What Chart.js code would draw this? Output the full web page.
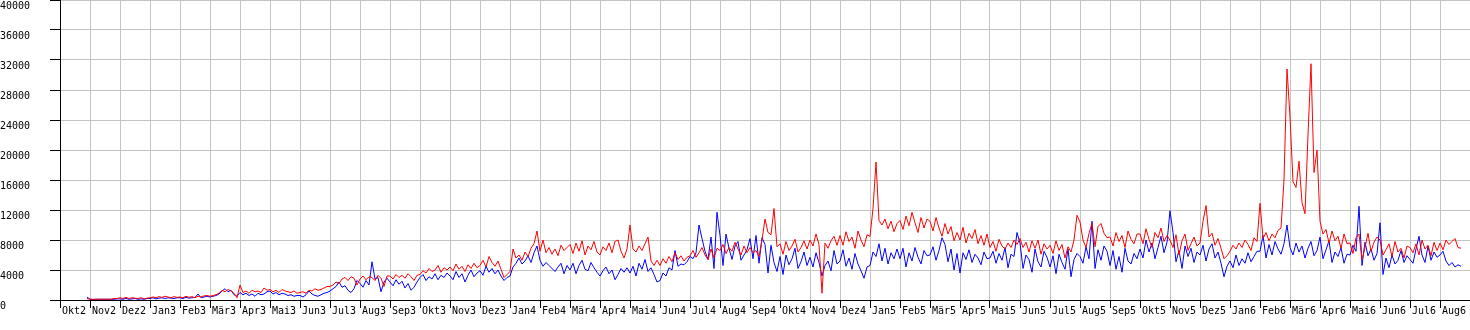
<!DOCTYPE html>
<html>
<head>
<meta charset="utf-8">
<script src="https://cdn.jsdelivr.net/npm/chart.js@4"></script>
<style>
  html, body { margin: 0; padding: 0; background: #fff; }
  canvas { display: block; }
</style>
</head>
<body>
<canvas id="myChart" width="1470" height="330"></canvas>
<script>
// month labels, one grid column (30 units) each
const months = [
    'Okt2', 'Nov2', 'Dez2', 'Jan3', 'Feb3', 'Mär3', 'Apr3', 'Mai3', 'Jun3', 'Jul3', 'Aug3', 'Sep3',
    'Okt3', 'Nov3', 'Dez3', 'Jan4', 'Feb4', 'Mär4', 'Apr4', 'Mai4', 'Jun4', 'Jul4', 'Aug4', 'Sep4',
    'Okt4', 'Nov4', 'Dez4', 'Jan5', 'Feb5', 'Mär5', 'Apr5', 'Mai5', 'Jun5', 'Jul5', 'Aug5', 'Sep5',
    'Okt5', 'Nov5', 'Dez5', 'Jan6', 'Feb6', 'Mär6', 'Apr6', 'Mai6', 'Jun6', 'Jul6', 'Aug6'
];

const yTicks = [0, 4000, 8000, 12000, 16000, 20000, 24000, 28000, 32000, 36000, 40000];

// 10 samples per month (every 3 days), values in thousands
const step = 3;

const red = [
    null, null, null, null, null, null, null, null, null, 0.2,
    0.1, 0.1, 0.1, 0.1, 0.1, 0.1, 0.1, 0.1, 0.2, 0.2,
    0.3, 0.2, 0.35, 0.2, 0.3, 0.25, 0.2, 0.3, 0.15, 0.25,
    0.3, 0.4, 0.3, 0.45, 0.35, 0.5, 0.4, 0.3, 0.45, 0.35,
    0.4, 0.3, 0.5, 0.35, 0.45, 0.3, 0.5, 0.4, 0.55, 0.6,
    0.5, 0.6, 0.7, 0.9, 1.3, 1.1, 1.4, 1.2, 0.9, 0.3,
    2.0, 1.0, 1.2, 0.9, 1.3, 1.1, 1.2, 1.0, 1.6, 1.3,
    1.4, 1.1, 1.3, 1.0, 1.4, 1.2, 1.1, 1.0, 1.2, 0.9,
    1.0, 1.1, 0.9, 1.3, 1.2, 1.5, 1.3, 1.4, 1.6, 1.8,
    1.8, 2.0, 2.4, 2.2, 2.8, 3.0, 2.6, 3.1, 2.9, 2.0,
    2.8, 3.2, 2.7, 3.1, 3.0, 2.6, 3.3, 2.9, 1.8, 3.2,
    3.2, 2.8, 3.4, 3.0, 3.3, 2.9, 3.5, 3.1, 2.6, 3.3,
    3.4, 3.9, 3.6, 4.2, 3.8, 4.0, 4.6, 3.7, 4.3, 4.0,
    4.4, 3.9, 4.8, 4.1, 4.5, 3.8, 4.7, 4.2, 4.9, 4.3,
    4.6, 5.3, 4.4, 5.8, 5.0, 4.5, 5.2, 4.1, 3.0, 3.4,
    3.8, 6.8, 5.6, 6.0, 5.3, 6.4, 5.8, 6.9, 7.5, 9.2,
    6.5, 8.0, 6.3, 7.0, 6.1, 6.8, 5.9, 7.3, 6.6, 7.0,
    7.4, 6.2, 7.6, 6.5, 7.9, 6.0, 7.2, 6.7, 7.8, 6.4,
    6.0, 7.1, 6.6, 7.6, 6.3, 7.8, 8.0, 6.5, 5.6, 6.8,
    10.0, 6.8, 6.4, 7.2, 6.6, 7.5, 8.4, 5.2, 4.6, 5.3,
    4.6, 5.5, 4.9, 5.8, 5.1, 6.3, 5.4, 5.9, 5.2, 5.7,
    5.9, 6.6, 5.7, 6.3, 7.0, 6.0, 5.4, 6.8, 5.6, 6.9,
    6.6, 7.4, 6.2, 7.0, 6.5, 7.7, 6.8, 6.0, 7.2, 6.3,
    7.0, 6.3, 6.6, 5.8, 8.0, 10.8, 9.0, 8.7, 12.2, 7.1,
    7.5, 6.1, 7.8, 6.6, 7.2, 8.1, 6.4, 7.0, 7.9, 6.8,
    8.0, 7.2, 8.8, 7.4, 0.9, 7.6, 6.9, 7.9, 8.5, 7.3,
    8.6, 7.3, 9.1, 7.8, 8.4, 6.9, 9.2, 8.0, 7.1, 8.7,
    8.5, 12.2, 18.4, 10.6, 10.0, 10.8, 9.5, 10.5, 9.1, 10.2,
    10.6, 9.4, 11.2, 9.9, 11.7, 10.3, 9.0, 11.0, 9.6, 10.8,
    10.5, 9.2, 11.0, 9.6, 8.5, 10.2, 8.8, 9.8, 7.9, 9.0,
    8.0, 9.7, 7.6, 8.9, 8.2, 9.4, 7.5, 8.6, 7.3, 8.8,
    7.0, 7.8, 6.5, 8.1, 7.2, 6.8, 7.6, 7.0, 8.0, 7.4,
    8.2, 7.0, 7.7, 6.4, 7.9, 6.9, 8.0, 6.1, 7.5, 6.8,
    7.3, 6.2, 7.9, 6.6, 7.4, 5.6, 7.1, 6.4, 8.0, 11.3,
    10.4, 8.0, 7.0, 8.9, 10.2, 7.1, 9.8, 10.2, 8.9, 8.3,
    8.4, 7.2, 9.0, 7.8, 8.6, 7.0, 9.2, 8.1, 7.5, 8.8,
    8.8, 7.5, 9.5, 8.1, 7.0, 9.0, 8.3, 9.6, 7.8, 8.6,
    8.0, 7.0, 8.7, 6.0, 7.9, 8.8, 6.6, 7.5, 8.4, 7.2,
    7.6, 10.5, 12.6, 8.4, 8.9, 7.3, 8.2, 6.9, 5.5, 5.9,
    6.5, 7.3, 6.8, 7.6, 7.0, 8.0, 7.4, 6.6, 8.3, 7.8,
    12.9, 8.2, 9.0, 7.9, 8.8, 8.3, 9.3, 9.6, 16.0, 30.8,
    24.4, 15.8, 15.0, 18.5, 13.0, 11.5, 22.0, 31.5, 17.0, 20.0,
    10.5, 8.8, 9.4, 7.6, 9.2, 7.9, 8.5, 6.9, 8.8, 7.5,
    7.6, 6.2, 8.3, 8.8, 5.4, 7.0, 8.9, 6.5, 7.7, 8.4,
    8.0, 6.0, 6.7, 7.5, 5.8, 7.8, 6.4, 6.9, 5.6, 7.2,
    7.0, 6.3, 7.5, 6.0, 8.0, 6.8, 7.3, 5.9, 7.7, 6.6,
    7.6, 6.7, 8.0, 7.4, 7.8, 8.2, 7.0, 6.9, null, null
];

const blue = [
    null, null, null, null, null, null, null, null, null, 0.4,
    0.1, 0.05, 0.1, 0.1, 0.1, 0.1, 0.1, 0.1, 0.1, 0.15,
    0.15, 0.1, 0.2, 0.1, 0.15, 0.2, 0.1, 0.15, 0.1, 0.2,
    0.2, 0.3, 0.15, 0.25, 0.3, 0.2, 0.3, 0.25, 0.2, 0.3,
    0.3, 0.2, 0.35, 0.25, 0.3, 0.35, 0.8, 0.3, 0.4, 0.5,
    0.4, 0.5, 0.6, 0.8, 1.2, 1.5, 1.1, 1.3, 0.7, 0.5,
    1.0, 0.7, 0.9, 0.6, 0.8, 0.5, 0.9, 0.7, 0.8, 1.1,
    1.2, 0.8, 1.0, 0.7, 0.9, 0.8, 0.6, 0.7, 0.5, 0.6,
    0.6, 0.4, 0.7, 1.2, 0.8, 0.6, 0.5, 0.7, 0.9, 1.0,
    1.2, 1.5, 1.8, 2.4, 1.7, 1.9, 1.3, 1.0, 1.5, 2.6,
    2.2, 1.7, 2.6, 2.0, 5.1, 2.8, 3.0, 1.1, 2.4, 2.9,
    2.4, 1.9, 2.7, 2.1, 2.5, 1.6, 2.2, 1.3, 1.7, 2.4,
    3.0, 3.4, 2.6, 3.1, 2.8, 3.5, 2.7, 3.3, 3.0, 3.6,
    3.2, 2.7, 3.8, 3.0, 3.5, 2.4, 3.3, 4.0, 3.1, 3.6,
    3.9, 3.3, 4.5, 3.7, 4.2, 3.5, 4.0, 3.2, 2.6, 3.0,
    3.2, 4.4, 4.9, 5.6, 4.8, 5.2, 5.9, 5.0, 6.3, 7.2,
    5.3, 4.5, 5.0, 4.6, 4.2, 3.8, 4.4, 4.9, 3.5, 4.6,
    4.0, 4.9, 3.5, 4.6, 5.3, 4.1, 3.9, 5.0, 4.3, 3.7,
    3.2, 3.9, 4.4, 3.5, 4.0, 2.7, 3.4, 4.2, 3.7, 4.3,
    3.6, 4.5, 3.2, 4.9, 4.1, 5.4, 3.8, 4.3, 3.4, 2.4,
    2.6, 3.6, 3.2, 4.3, 4.0, 6.6, 4.5, 4.8, 4.7, 5.1,
    5.8, 5.5, 6.3, 10.0, 8.2, 6.5, 5.4, 8.4, 4.2, 11.7,
    8.6, 4.6, 8.8, 6.9, 5.4, 7.2, 7.8, 5.3, 6.0, 6.7,
    8.2, 5.5, 8.6, 4.9, 8.3, 7.4, 3.6, 7.3, 5.0, 3.8,
    5.8, 3.4, 6.0, 4.7, 5.5, 6.9, 4.2, 5.1, 6.4, 4.6,
    5.7, 4.4, 6.3, 5.0, 3.2, 4.6, 5.2, 3.9, 6.6, 4.8,
    5.2, 6.7, 4.5, 5.6, 4.1, 6.2, 4.8, 3.9, 2.9, 4.4,
    4.6, 6.4, 5.8, 7.5, 5.2, 6.9, 4.8, 6.3, 5.5, 6.8,
    5.5, 6.9, 4.4, 6.3, 5.2, 7.0, 5.7, 4.8, 6.6, 5.9,
    6.0, 7.1, 5.3, 6.6, 8.3, 7.4, 5.1, 6.8, 4.0, 6.2,
    3.6, 6.3, 5.4, 6.7, 5.0, 6.1, 5.6, 4.7, 6.4, 5.5,
    5.6, 6.5, 4.9, 6.2, 5.3, 7.0, 4.3, 6.1, 5.8, 9.0,
    7.6, 4.2, 6.0, 5.4, 3.7, 6.8, 5.1, 4.4, 6.5, 5.7,
    4.4, 5.9, 3.5, 6.1, 5.0, 4.1, 6.8, 3.1, 5.4, 6.2,
    5.8, 4.9, 7.1, 5.5, 10.5, 4.2, 6.7, 5.3, 7.2, 6.5,
    4.6, 6.6, 4.1, 5.8, 3.7, 6.9, 5.2, 4.8, 6.2, 5.5,
    6.8, 5.6, 8.0, 6.4, 7.6, 5.5, 7.0, 8.5, 6.3, 7.7,
    11.9, 9.0, 5.1, 6.6, 4.2, 7.2, 5.8, 6.9, 5.0, 6.4,
    6.0, 7.3, 5.2, 6.8, 7.5, 5.6, 6.4, 4.9, 3.1, 4.5,
    5.2, 4.3, 6.0, 4.6, 5.5, 4.9, 6.3, 5.1, 5.8, 6.5,
    6.5, 8.6, 5.6, 7.4, 6.0, 7.8, 6.8, 6.1, 7.5, 10.0,
    7.0, 6.0, 7.6, 6.4, 7.2, 5.6, 6.9, 7.8, 5.9, 6.6,
    8.4, 5.5, 6.7, 7.9, 5.0, 6.4, 5.8, 7.0, 4.9, 6.1,
    6.0, 7.3, 6.5, 12.5, 4.6, 7.7, 5.9, 6.8, 5.3, 6.2,
    10.3, 3.4, 5.6, 4.3, 6.0, 4.8, 5.3, 6.6, 5.0, 5.9,
    5.4, 4.9, 6.8, 8.5, 6.0, 5.0, 7.2, 5.3, 6.4, 5.7,
    6.0, 6.5, 5.2, 4.6, 5.0, 4.4, 4.7, 4.5, null, null
];

function toPoints(arr) {
    return arr.map((v, i) => ({ x: i * step, y: v == null ? null : v * 1000 }));
}

const font = { family: 'DejaVu Sans Mono', size: 10 };

const data = {
    datasets: [{
        label: 'rot',
        data: toPoints(red),
        borderColor: '#ff0000',
        borderWidth: 1
    }, {
        label: 'blau',
        data: toPoints(blue),
        borderColor: '#0000ff',
        borderWidth: 1
    }]
};

const config = {
    type: 'line',
    data: data,
    options: {
        responsive: false,
        animation: false,
        devicePixelRatio: 1,
        layout: { padding: 0 },
        elements: {
            point: { radius: 0 },
            line: { tension: 0, fill: false }
        },
        plugins: {
            legend: { display: false },
            tooltip: { enabled: false }
        },
        scales: {
            x: {
                type: 'linear',
                min: 0,
                max: months.length * 30,
                afterBuildTicks: s => {
                    s.ticks = months.map((m, i) => ({ value: i * 30 }))
                        .concat([{ value: months.length * 30 }]);
                },
                afterFit: s => {
                    s.height = 30;
                    s.paddingLeft = 0;
                    s.paddingRight = 0;
                },
                ticks: {
                    callback: (v) => months[v / 30] || '',
                    align: 'start',
                    labelOffset: 2,
                    padding: -3,
                    maxRotation: 0,
                    autoSkip: false,
                    color: '#000',
                    font: font
                },
                grid: {
                    color: '#c4c4c4',
                    tickColor: '#000',
                    tickLength: 8,
                    lineWidth: 1
                },
                border: { color: '#000', width: 1 }
            },
            y: {
                min: 0,
                max: 40000,
                afterBuildTicks: s => {
                    s.ticks = yTicks.map(v => ({ value: v }));
                },
                afterFit: s => {
                    s.width = 60;
                    s.paddingTop = 0;
                    s.paddingBottom = 0;
                },
                ticks: {
                    callback: (v) => String(v),
                    crossAlign: 'far',
                    labelOffset: 6,
                    color: '#000',
                    font: font
                },
                grid: {
                    color: '#c4c4c4',
                    tickColor: '#000',
                    tickLength: 10,
                    lineWidth: 1
                },
                border: { color: '#000', width: 1 }
            }
        }
    }
};

function makeChart() {
    const myChart = new Chart(
        document.getElementById('myChart'),
        config
    );
}

makeChart();
</script>
</body>
</html>
